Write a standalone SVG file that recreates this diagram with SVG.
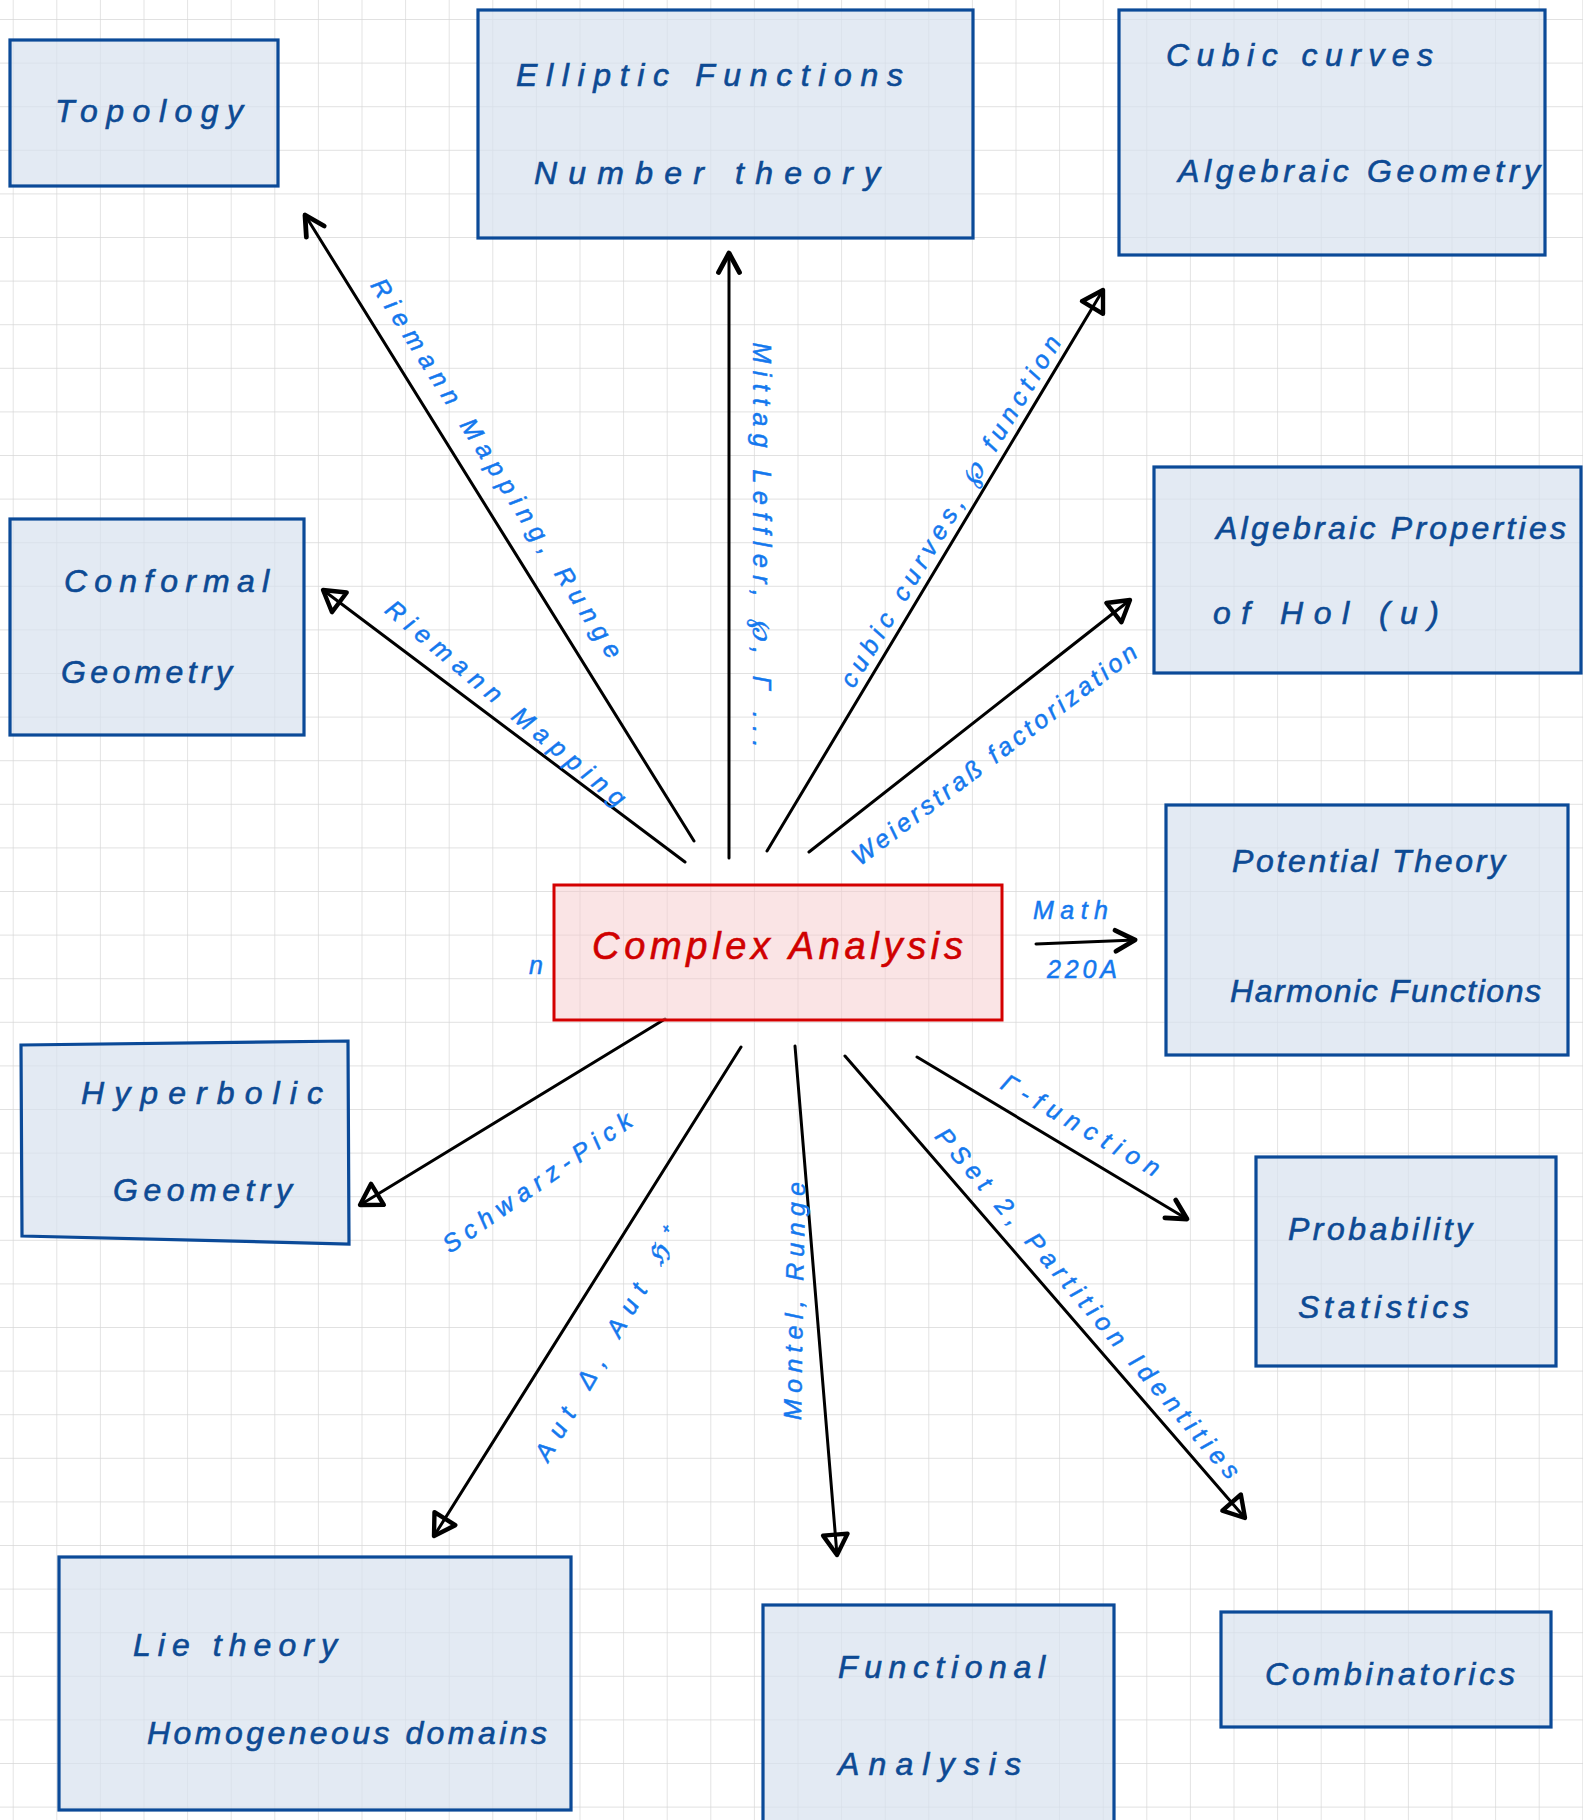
<svg xmlns="http://www.w3.org/2000/svg" width="1583" height="1820" viewBox="0 0 1583 1820">
<defs>
<pattern id="grid" x="12.7" y="19" width="43.6" height="43.6" patternUnits="userSpaceOnUse">
<path d="M0,0 H43.6 M0,0 V43.6" fill="none" stroke="#d8d8d8" stroke-width="1.4"/>
</pattern>
<marker id="v" markerUnits="userSpaceOnUse" markerWidth="30" markerHeight="30" refX="0" refY="0" viewBox="-16 -10 20 20" orient="auto">
<path d="M-13,-7 L0,0 L-13,7" fill="none" stroke="#000" stroke-width="3.2" stroke-linecap="round" stroke-linejoin="round"/>
</marker>
<marker id="t" markerUnits="userSpaceOnUse" markerWidth="30" markerHeight="30" refX="0" refY="0" viewBox="-18 -11 22 22" orient="auto">
<path d="M-15,-9 L0,0 L-15,9 Z" fill="none" stroke="#000" stroke-width="3.2" stroke-linecap="round" stroke-linejoin="round"/>
</marker>
</defs>
<style>
.box{fill:#d7e1ee;fill-opacity:0.7;stroke:#0b4a98;stroke-width:3.2}
.nt{fill:#0d4a94;font-family:"Liberation Sans",Arial,sans-serif;font-style:italic;font-size:32px;stroke:#0d4a94;stroke-width:0.6}
.lb{fill:#1478ee;font-family:"Liberation Sans",Arial,sans-serif;font-style:italic;font-size:25px;stroke:#1478ee;stroke-width:0.5}
.cn{fill:none;stroke:#000;stroke-width:3;stroke-linecap:round}
</style>
<rect width="1583" height="1820" fill="#ffffff"/>
<rect width="1583" height="1820" fill="url(#grid)"/>

<g id="connectors">
<line class="cn" x1="694" y1="841" x2="305" y2="215" marker-end="url(#v)"/>
<line class="cn" x1="685" y1="862" x2="323" y2="590" marker-end="url(#t)"/>
<line class="cn" x1="729" y1="858" x2="729" y2="253" marker-end="url(#v)"/>
<line class="cn" x1="767" y1="851" x2="1103" y2="290" marker-end="url(#t)"/>
<line class="cn" x1="809" y1="852" x2="1130" y2="600" marker-end="url(#t)"/>
<line class="cn" x1="1036" y1="944" x2="1135" y2="940" marker-end="url(#v)"/>
<line class="cn" x1="665" y1="1019" x2="360" y2="1205" marker-end="url(#t)"/>
<line class="cn" x1="741" y1="1047" x2="434" y2="1536" marker-end="url(#t)"/>
<line class="cn" x1="795" y1="1046" x2="837" y2="1555" marker-end="url(#t)"/>
<line class="cn" x1="845" y1="1056" x2="1245" y2="1518" marker-end="url(#t)"/>
<line class="cn" x1="917" y1="1057" x2="1187" y2="1219" marker-end="url(#v)"/>

<text class="lb" transform="translate(497,468) rotate(57.5)" text-anchor="middle" dominant-baseline="central" textLength="445" lengthAdjust="spacing">Riemann Mapping, Runge</text>
<text class="lb" transform="translate(506,703) rotate(40)" text-anchor="middle" dominant-baseline="central" textLength="305" lengthAdjust="spacing">Riemann Mapping</text>
<text class="lb" transform="translate(762,545) rotate(90)" text-anchor="middle" dominant-baseline="central" textLength="405" lengthAdjust="spacing">Mittag Leffler, ℘, Γ ...</text>
<text class="lb" transform="translate(950,511) rotate(-59)" text-anchor="middle" dominant-baseline="central" textLength="405" lengthAdjust="spacing">cubic curves, ℘ function</text>
<text class="lb" transform="translate(994,754) rotate(-37)" text-anchor="middle" dominant-baseline="central" textLength="350" lengthAdjust="spacing">Weierstraß factorization</text>
<text class="lb" x="1033" y="919" textLength="75" lengthAdjust="spacing" font-size="22">Math</text>
<text class="lb" x="1047" y="978" textLength="70" lengthAdjust="spacing" font-size="20">220A</text>
<text class="lb" x="529" y="974" font-size="13">n</text>
<text class="lb" transform="translate(537,1182) rotate(-35)" text-anchor="middle" dominant-baseline="central" textLength="225" lengthAdjust="spacing">Schwarz-Pick</text>
<text class="lb" transform="translate(606,1345) rotate(-60)" text-anchor="middle" dominant-baseline="central" textLength="262" lengthAdjust="spacing">Aut Δ, Aut ℌ⁺</text>
<text class="lb" transform="translate(794,1301) rotate(-89)" text-anchor="middle" dominant-baseline="central" textLength="238" lengthAdjust="spacing">Montel, Runge</text>
<text class="lb" transform="translate(1081,1125) rotate(30)" text-anchor="middle" dominant-baseline="central" textLength="179" lengthAdjust="spacing">Γ-function</text>
<text class="lb" transform="translate(1088,1303) rotate(49.4)" text-anchor="middle" dominant-baseline="central" textLength="453" lengthAdjust="spacing">PSet 2, Partition Identities</text>
</g>

<g id="topology">
<rect class="box" x="10" y="40" width="268" height="146"/>
<text class="nt" x="55" y="122" font-size="36" textLength="188" lengthAdjust="spacing">Topology</text>
</g>
<g id="elliptic">
<rect class="box" x="478" y="10" width="495" height="228"/>
<text class="nt" x="516" y="86" font-size="34" textLength="387" lengthAdjust="spacing">Elliptic Functions</text>
<text class="nt" x="534" y="184" font-size="34" textLength="346" lengthAdjust="spacing">Number theory</text>
</g>
<g id="cubic">
<rect class="box" x="1119" y="10" width="426" height="245"/>
<text class="nt" x="1166" y="66" textLength="267" lengthAdjust="spacing">Cubic curves</text>
<text class="nt" x="1178" y="182" textLength="362" lengthAdjust="spacing">Algebraic Geometry</text>
</g>
<g id="conformal">
<rect class="box" x="10" y="519" width="294" height="216"/>
<text class="nt" x="64" y="592" textLength="205" lengthAdjust="spacing">Conformal</text>
<text class="nt" x="61" y="683" textLength="171" lengthAdjust="spacing">Geometry</text>
</g>
<g id="algprops">
<rect class="box" x="1154" y="467" width="427" height="206"/>
<text class="nt" x="1216" y="539" textLength="350" lengthAdjust="spacing">Algebraic Properties</text>
<text class="nt" x="1213" y="624" textLength="226" lengthAdjust="spacing">of Hol (u)</text>
</g>
<g id="potential">
<rect class="box" x="1166" y="805" width="402" height="250"/>
<text class="nt" x="1232" y="872" textLength="273" lengthAdjust="spacing">Potential Theory</text>
<text class="nt" x="1230" y="1002" font-size="29" textLength="311" lengthAdjust="spacing">Harmonic Functions</text>
</g>
<g id="complex">
<rect x="554" y="885" width="448" height="135" fill="#f5c9cc" fill-opacity="0.5" stroke="#d40000" stroke-width="3"/>
<text x="592" y="959" fill="#d00000" stroke="#d00000" stroke-width="0.6" font-family="Liberation Sans, Arial, sans-serif" font-style="italic" font-size="38" textLength="371" lengthAdjust="spacing">Complex Analysis</text>
</g>
<g id="hyperbolic">
<polygon class="box" points="21,1045 348,1041 349,1244 22,1236"/>
<text class="nt" x="81" y="1104" textLength="242" lengthAdjust="spacing">Hyperbolic</text>
<text class="nt" x="113" y="1201" textLength="179" lengthAdjust="spacing">Geometry</text>
</g>
<g id="probability">
<rect class="box" x="1256" y="1157" width="300" height="209"/>
<text class="nt" x="1288" y="1240" textLength="184" lengthAdjust="spacing">Probability</text>
<text class="nt" x="1298" y="1318" textLength="171" lengthAdjust="spacing">Statistics</text>
</g>
<g id="lie">
<rect class="box" x="59" y="1557" width="512" height="253"/>
<text class="nt" x="133" y="1656" textLength="204" lengthAdjust="spacing">Lie theory</text>
<text class="nt" x="147" y="1744" font-size="29" textLength="400" lengthAdjust="spacing">Homogeneous domains</text>
</g>
<g id="functional">
<rect class="box" x="763" y="1605" width="351" height="230"/>
<text class="nt" x="838" y="1678" textLength="207" lengthAdjust="spacing">Functional</text>
<text class="nt" x="838" y="1775" textLength="183" lengthAdjust="spacing">Analysis</text>
</g>
<g id="combinatorics">
<rect class="box" x="1221" y="1612" width="330" height="115"/>
<text class="nt" x="1265" y="1685" font-size="30" textLength="250" lengthAdjust="spacing">Combinatorics</text>
</g>
</svg>
